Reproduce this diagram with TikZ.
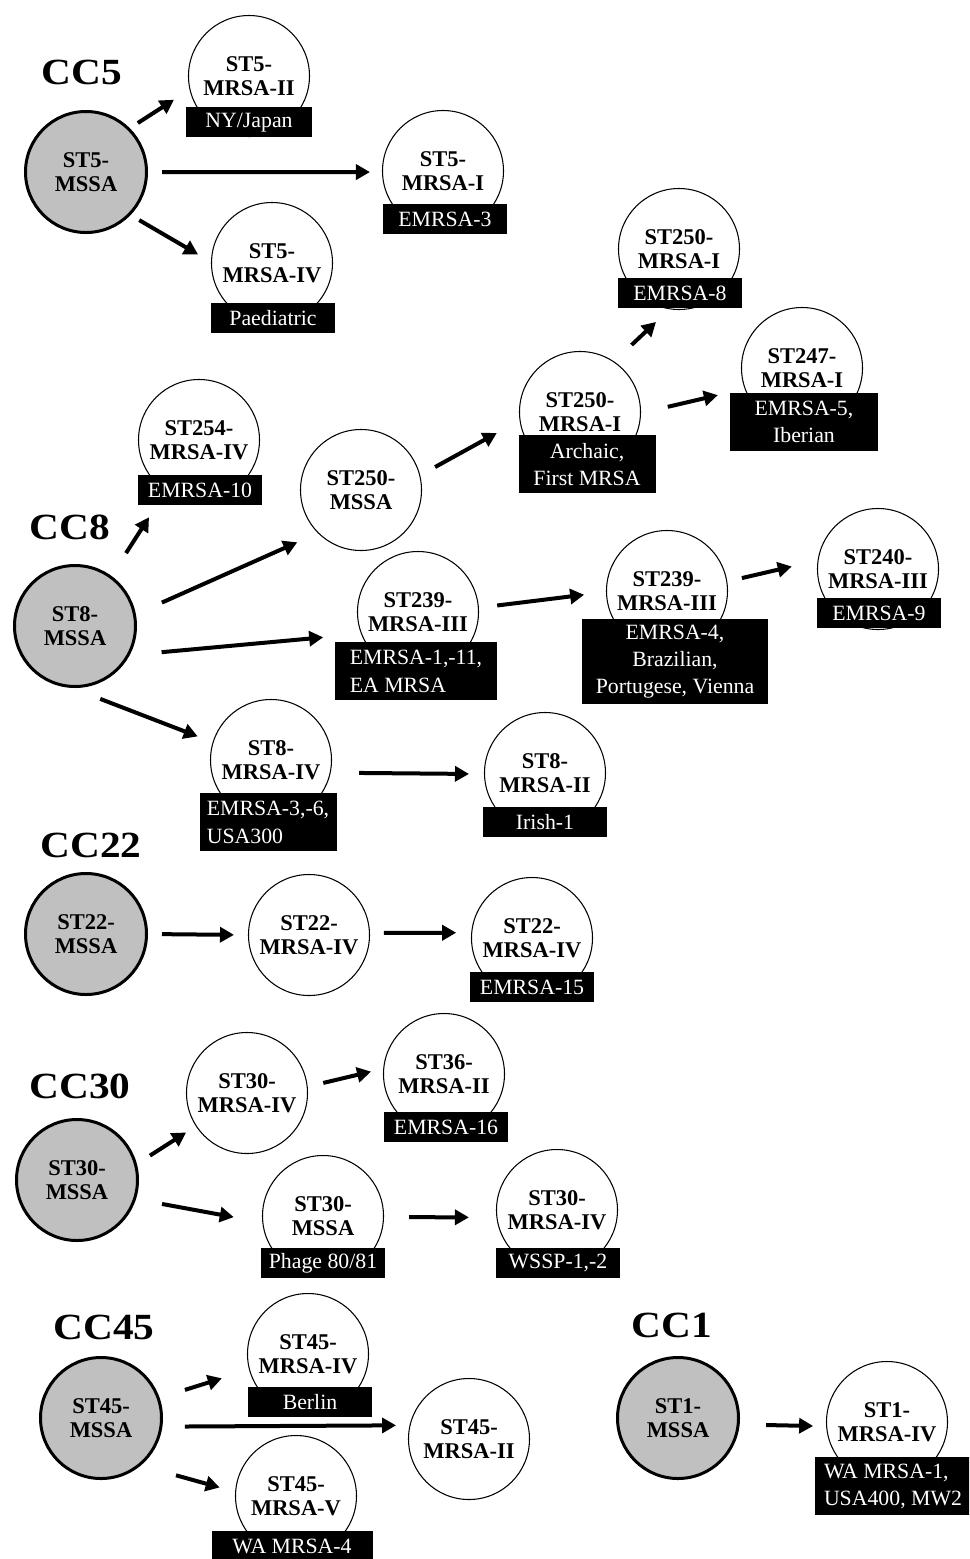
\documentclass[tikz,border=0pt]{standalone}
\usepackage{fontspec}
\setmainfont{Liberation Serif}
\newfontfamily\cladefont[FakeStretch=1.12]{Liberation Serif}
\usepackage{tikz}
\usetikzlibrary{arrows.meta}
\definecolor{mssagrey}{RGB}{192,192,192}

\begin{document}
\begin{tikzpicture}[x=0.2mm,y=-0.2mm,>={Triangle[length=2.8mm,width=3mm]},every node/.style={align=center},strain/.style={circle,draw,line width=0.6pt,fill=white,minimum size=24.2mm,inner sep=0pt,font=\fontsize{12.8}{13.6}\selectfont\bfseries},mssa/.style={strain,fill=mssagrey,line width=0.6mm},tag/.style={anchor=north,fill=black,text=white,minimum width=24.8mm,minimum height=6mm,inner xsep=1mm,inner ysep=0.5mm,font=\fontsize{12.4}{15.4}\selectfont},tag2/.style={tag,minimum height=11.6mm},clade/.style={font=\cladefont\fontsize{21}{24}\selectfont\bfseries,inner sep=0pt},arrow/.style={->,line width=0.8mm}]
\path[use as bounding box,fill=white] (0,0) rectangle (969,1559);
\clip (0,0) rectangle (969,1559);
\node[clade] (cc5) at (82,72) {CC5};
\node[mssa] (st5) at (86,172) {ST5-\\MSSA};
\node[strain] (st5ii) at (249,76) {ST5-\\MRSA-II};
\node[strain] (st5i) at (443,171) {ST5-\\MRSA-I};
\node[strain] (st5iv) at (272,263) {ST5-\\MRSA-IV};
\node[tag,minimum width=25.2mm] (nyjapan) at (249,107) {NY/Japan};
\node[tag] (emrsa3) at (445,204) {EMRSA-3};
\node[tag] (paed) at (273,303) {Paediatric};
\draw[arrow,shorten <=1.9mm,shorten >=3.7mm] (st5.45) -- (st5ii.193); \draw[arrow,shorten <=2.8mm,shorten >=2.4mm] (st5.0) -- (st5i.181); \draw[arrow,shorten <=2mm,shorten >=3mm] (st5.316) -- (st5iv.179);
\node[clade] (cc8) at (70,527) {CC8};
\node[mssa] (st8) at (75,626) {ST8-\\MSSA};
\node[strain] (st254) at (199,440) {ST254-\\MRSA-IV};
\node[strain] (st250m) at (361,490) {ST250-\\MSSA};
\node[strain] (st250a) at (580,412) {ST250-\\MRSA-I};
\node[strain] (st250b) at (679,249) {ST250-\\MRSA-I};
\node[strain] (st247) at (802,368) {ST247-\\MRSA-I};
\node[strain] (st239a) at (418,612) {ST239-\\MRSA-III};
\node[strain] (st239b) at (667,591) {ST239-\\MRSA-III};
\node[strain] (st240) at (878,569) {ST240-\\MRSA-III};
\node[strain] (st8iv) at (271,760) {ST8-\\MRSA-IV};
\node[strain] (st8ii) at (545,773) {ST8-\\MRSA-II};
\node[tag] (emrsa10) at (200,475) {EMRSA-10};
\node[tag] (emrsa8) at (680,278) {EMRSA-8};
\node[tag2,minimum width=27.4mm] (archaic) at (587,435) {Archaic,\\First MRSA};
\node[tag2,minimum width=29.6mm] (iberian) at (804,393) {EMRSA-5,\\Iberian};
\node[tag2,minimum width=32.4mm,align=left] (emrsa1) at (416,642) {EMRSA-1,-11,\\EA MRSA};
\node[tag,minimum width=37.2mm,minimum height=17mm] (emrsa4) at (675,619) {EMRSA-4,\\Brazilian,\\Portugese, Vienna};
\node[tag] (emrsa9) at (879,598) {EMRSA-9};
\node[tag2,minimum width=27.4mm,align=left] (usa300) at (268,793) {EMRSA-3,-6,\\USA300};
\node[tag] (irish) at (545,807) {Irish-1};
\draw[arrow,shorten <=5.4mm,shorten >=6.2mm] (st8.54) -- (st254.237); \draw[arrow,shorten <=5.7mm,shorten >=4.5mm] (st8.11) -- (st250m.225); \draw[arrow,shorten <=6.4mm,shorten >=7.6mm] (st8.332) -- (st239a.201); \draw[arrow,shorten <=6.1mm,shorten >=3.2mm] (st8.267) -- (st8iv.163);
\draw[arrow,shorten <=3.4mm,shorten >=5.2mm] (st250m.14) -- (st250a.188); \draw[arrow,shorten <=4.8mm,shorten >=3.7mm] (st250a.56) -- (st250b.261); \draw[arrow,shorten <=5.5mm,shorten >=5.5mm] (st250a.359) -- (st247.200);
\draw[arrow,shorten <=3.7mm,shorten >=4.4mm] (st239a.4) -- (st239b.181); \draw[arrow,shorten <=3mm,shorten >=5.3mm] (st239b.9) -- (st240.172); \draw[arrow,shorten <=5.7mm,shorten >=3mm] (st8iv.348) -- (st8ii.181);
\node[clade] (cc22) at (91,845) {CC22};
\node[mssa] (st22) at (86,934) {ST22-\\MSSA};
\node[strain] (st22a) at (309,935) {ST22-\\MRSA-IV};
\node[strain] (st22b) at (532,938) {ST22-\\MRSA-IV};
\node[tag] (emrsa15) at (532,972) {EMRSA-15};
\draw[arrow,shorten <=2.8mm,shorten >=2.8mm] (st22.0) -- (st22a.180); \draw[arrow,shorten <=2.8mm,shorten >=3mm] (st22a.2) -- (st22b.175);
\node[clade] (cc30) at (80,1086) {CC30};
\node[mssa] (st30) at (77,1180) {ST30-\\MSSA};
\node[strain] (st30a) at (247,1093) {ST30-\\MRSA-IV};
\node[strain] (st36) at (444,1074) {ST36-\\MRSA-II};
\node[strain] (st30m) at (323,1216) {ST30-\\MSSA};
\node[strain] (st30b) at (557,1210) {ST30-\\MRSA-IV};
\node[tag] (emrsa16) at (446,1112) {EMRSA-16};
\node[tag] (phage) at (323,1248) {Phage 80/81};
\node[tag] (wssp) at (558,1248) {WSSP-1,-2};
\draw[arrow,shorten <=3.1mm,shorten >=2.3mm] (st30.15) -- (st30a.213); \draw[arrow,shorten <=5.3mm,shorten >=5.8mm] (st30.342) -- (st30m.186); \draw[arrow,shorten <=3.2mm,shorten >=2.5mm] (st30a.6) -- (st36.175); \draw[arrow,shorten <=5mm,shorten >=5.5mm] (st30m.359) -- (st30b.187);
\node[clade] (cc45) at (104,1327) {CC45};
\node[mssa] (st45) at (101,1418) {ST45-\\MSSA};
\node[strain] (st45iv) at (308,1354) {ST45-\\MRSA-IV};
\node[strain] (st45ii) at (469,1439) {ST45-\\MRSA-II};
\node[strain] (st45v) at (296,1496) {ST45-\\MRSA-V};
\node[tag] (berlin) at (310,1387) {Berlin};
\node[tag,minimum width=32.2mm] (wamrsa4) at (292,1531) {WA MRSA-4};
\draw[arrow,shorten <=5.3mm,shorten >=5.7mm] (st45.19) -- (st45iv.195); \draw[arrow,shorten <=4.5mm,shorten >=2.7mm] (st45.352) -- (st45ii.167); \draw[arrow,shorten <=7.3mm,shorten >=3.2mm] (st45.310) -- (st45v.176);
\node[clade] (cc1) at (672,1325) {CC1};
\node[mssa] (st1) at (678,1418) {ST1-\\MSSA};
\node[strain] (st1iv) at (887,1422) {ST1-\\MRSA-IV};
\node[tag2,minimum width=31.2mm,align=left] (wamrsa1) at (893,1457) {WA MRSA-1,\\USA400, MW2};
\draw[arrow,shorten <=5.3mm,shorten >=2.6mm] (st1.354) -- (st1iv.184);
\end{tikzpicture}
\end{document}
